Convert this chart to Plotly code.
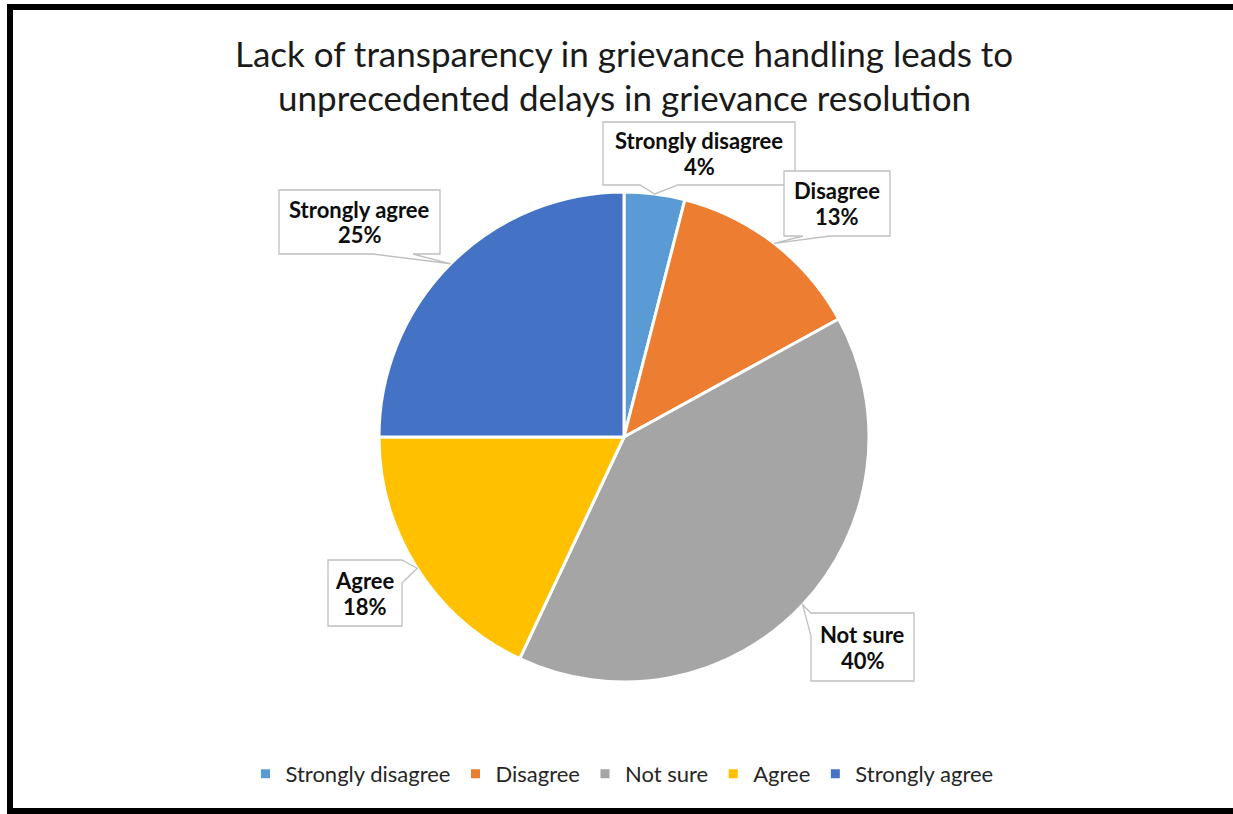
import math
import plotly.graph_objects as go

# Survey responses (percent of respondents)
categories = ["Strongly disagree", "Disagree", "Not sure", "Agree", "Strongly agree"]
shares = [4, 13, 40, 18, 25]
colors = ["#5B9BD5", "#ED7D31", "#A5A5A5", "#FFC000", "#4472C4"]

title_lines = ["Lack of transparency in grievance handling leads to",
               "unprecedented delays in grievance resolution"]

W, H = 1233, 814
FONT = "Lato, Carlito, sans-serif"

# Pie placement in pixels (centre and radius)
PIE_CX, PIE_CY, PIE_R = 624, 437, 245

# Callout boxes: (x0, y0, x1, y1) in pixels, side holding the pointer, pointer base span
callouts = [
    ((603, 122, 795, 185), "bottom", (640, 678)),
    ((784, 171, 890, 236), "bottom", (803, 830)),
    ((811, 613, 914, 681), "left", (613, 636)),
    ((328, 560, 402, 626), "right", (560, 583)),
    ((279, 190, 440, 254), "bottom", (373, 413)),
]


def px(x):
    return x / W


def py(y):
    return 1 - y / H


def callout_path(box, side, span, tip):
    x0, y0, x1, y1 = box
    a, b = span
    tx, ty = tip
    pts = [(x0, y0)]
    if side == "top":
        pts += [(a, y0), (tx, ty), (b, y0)]
    pts.append((x1, y0))
    if side == "right":
        pts += [(x1, a), (tx, ty), (x1, b)]
    pts.append((x1, y1))
    if side == "bottom":
        pts += [(b, y1), (tx, ty), (a, y1)]
    pts.append((x0, y1))
    if side == "left":
        pts += [(x0, b), (tx, ty), (x0, a)]
    return "M " + " L ".join(f"{px(x):.5f},{py(y):.5f}" for x, y in pts) + " Z"


fig = go.Figure()
fig.add_trace(go.Pie(
    labels=categories,
    values=shares,
    sort=False,
    direction="clockwise",
    rotation=0,
    marker=dict(colors=colors, line=dict(color="white", width=3)),
    textinfo="none",
    hoverinfo="label+percent",
    domain=dict(x=[px(PIE_CX - PIE_R), px(PIE_CX + PIE_R)],
                y=[py(PIE_CY + PIE_R), py(PIE_CY - PIE_R)]),
))

shapes = []
annotations = []
total = sum(shares)
cum = 0
for cat, val, (box, side, span) in zip(categories, shares, callouts):
    mid = (cum + val / 2) / total * 2 * math.pi
    cum += val
    tip = (PIE_CX + PIE_R * math.sin(mid), PIE_CY - PIE_R * math.cos(mid))
    shapes.append(dict(type="path", xref="paper", yref="paper",
                       path=callout_path(box, side, span, tip),
                       fillcolor="white", line=dict(color="#BFBFBF", width=1.3),
                       layer="above"))
    x0, y0, x1, y1 = box
    cx, cy = (x0 + x1) / 2, (y0 + y1) / 2
    pct = round(val / total * 100)
    for text, dy in ((cat, -13), (f"{pct}%", 13)):
        annotations.append(dict(
            xref="paper", yref="paper",
            x=px(cx), y=py(cy + dy),
            xanchor="center", yanchor="middle",
            text=f"<b>{text}</b>", showarrow=False,
            font=dict(family=FONT, size=22, color="#0D0D0D"),
        ))

for line, ty in zip(title_lines, (53, 97)):
    annotations.append(dict(
        xref="paper", yref="paper", x=px(624), y=py(ty),
        xanchor="center", yanchor="middle", showarrow=False,
        text=line,
        font=dict(family=FONT, size=35, color="#1A1A1A"),
    ))

# Outer frame: top, left and bottom edges (the right edge runs past the page)
for (xa, ya), (xb, yb) in (((7, 7), (W + 40, 7)),
                           ((10, 4), (10, 814)),
                           ((7, 811), (W + 40, 811))):
    shapes.append(dict(type="line", xref="paper", yref="paper",
                       x0=px(xa), y0=py(ya), x1=px(xb), y1=py(yb),
                       line=dict(color="black", width=6), layer="above"))

fig.update_layout(
    width=W, height=H,
    margin=dict(l=0, r=0, t=0, b=0),
    paper_bgcolor="white", plot_bgcolor="white",
    showlegend=True,
    legend=dict(orientation="h", x=px(622), xanchor="center",
                y=py(774), yanchor="middle",
                font=dict(family=FONT, size=22, color="#262626"),
                itemwidth=30, traceorder="normal"),
    shapes=shapes,
    annotations=annotations,
)

fig.write_html("out.html")
